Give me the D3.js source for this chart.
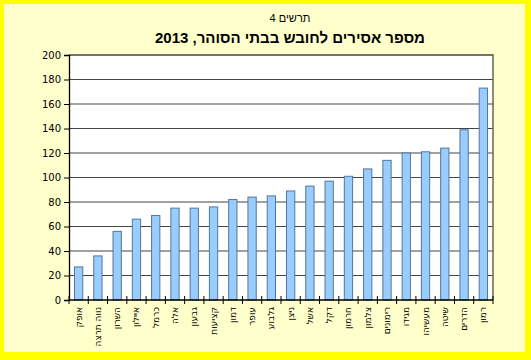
<!DOCTYPE html>
<html>
<head>
<meta charset="utf-8">
<script src="https://cdn.jsdelivr.net/npm/d3@7"></script>
<style>
  body { margin: 0; }
  svg { display: block; }
</style>
</head>
<body>
<div id="chart"></div>
<script>
var prisons = ["אופק", "נווה תרצה", "השרון", "איילון", "כרמל", "אלה", "גבעון", "קציעות", "דמון", "עופר", "גלבוע",
    "ניצן", "אשל", "דקל", "חרמון", "צלמון", "רימונים", "מגידו", "מעשיהו", "שיטה", "הדרים", "רמון"];
var prisonersPerMedic = [27, 36, 56, 66, 69, 75, 75, 76, 82, 84, 85, 89, 93, 97, 101, 107, 114, 120, 121, 124, 139, 173];
var yTicks = [0, 20, 40, 60, 80, 100, 120, 140, 160, 180, 200];

var w = 531, h = 360;
var plotLeft = 69, plotRight = 493, plotTop = 55, plotBottom = 300;

var svg = d3.select("#chart").append("svg")
    .attr("width", w)
    .attr("height", h);

// yellow frame
svg.append("rect").attr("width", w).attr("height", h).attr("fill", "#ffff00");
svg.append("rect").attr("x", 4).attr("y", 4).attr("width", w - 10).attr("height", h - 12)
    .attr("fill", "#ffffcc");

svg.append("text")
    .attr("x", 290).attr("y", 22)
    .attr("text-anchor", "middle")
    .attr("font-family", "Liberation Sans, Arial, sans-serif")
    .attr("font-size", 11)
    .text("תרשים 4");

svg.append("text")
    .attr("x", 290).attr("y", 43)
    .attr("text-anchor", "middle")
    .attr("font-family", "Liberation Sans, Arial, sans-serif")
    .attr("font-weight", "bold")
    .attr("font-size", 15)
    .text("מספר אסירים לחובש בבתי הסוהר, 2013");

var x = d3.scaleBand().domain(prisons).range([plotLeft, plotRight]).paddingInner(0).paddingOuter(0);
var y = d3.scaleLinear().domain([0, 200]).range([plotBottom, plotTop]);

svg.append("rect")
    .attr("x", plotLeft).attr("y", plotTop)
    .attr("width", plotRight - plotLeft).attr("height", plotBottom - plotTop)
    .attr("fill", "#ffffff");

// gridlines
svg.append("g").selectAll("line")
    .data(yTicks.filter(function (d) { return d > 0; }))
    .enter().append("line")
    .attr("x1", plotLeft).attr("x2", plotRight)
    .attr("y1", function (d) { return y(d); })
    .attr("y2", function (d) { return y(d); })
    .attr("stroke", "#444444")
    .attr("stroke-width", 1.2);

// plot border top/right
svg.append("path")
    .attr("d", "M" + plotLeft + "," + plotTop + "H" + plotRight + "V" + plotBottom)
    .attr("fill", "none")
    .attr("stroke", "#666655")
    .attr("stroke-width", 1.5);

var bw = x.bandwidth() * 0.43;
svg.append("g").selectAll("rect")
    .data(prisonersPerMedic)
    .enter().append("rect")
    .attr("x", function (d, i) { return x(prisons[i]) + (x.bandwidth() - bw) / 2; })
    .attr("y", function (d) { return y(d); })
    .attr("width", bw)
    .attr("height", function (d) { return y(0) - y(d); })
    .attr("fill", "#99ccff")
    .attr("stroke", "#557799")
    .attr("stroke-width", 1);

// y axis
var yAxis = svg.append("g")
    .attr("transform", "translate(" + plotLeft + ",0)")
    .call(d3.axisLeft(y).tickValues(yTicks).tickSize(5).tickPadding(3));
yAxis.select(".domain").attr("stroke", "#000").attr("stroke-width", 1.3);
yAxis.selectAll(".tick line").attr("stroke", "#000");
yAxis.selectAll("text")
    .attr("font-family", "DejaVu Sans, sans-serif")
    .attr("font-size", 10)
    .attr("fill", "#000");

// x axis
svg.append("line")
    .attr("x1", plotLeft).attr("x2", plotRight)
    .attr("y1", plotBottom).attr("y2", plotBottom)
    .attr("stroke", "#000").attr("stroke-width", 1.3);

var edges = prisons.map(function (p) { return x(p); }).concat([plotRight]);
svg.append("g").selectAll("line")
    .data(edges)
    .enter().append("line")
    .attr("x1", function (d) { return d; })
    .attr("x2", function (d) { return d; })
    .attr("y1", plotBottom - 4).attr("y2", plotBottom + 4)
    .attr("stroke", "#000");

svg.append("g").selectAll("text")
    .data(prisons)
    .enter().append("text")
    .attr("transform", function (d) {
        return "translate(" + (x(d) + x.bandwidth() / 2 + 3) + "," + (plotBottom + 7) + ") rotate(-90)";
    })
    .attr("text-anchor", "end")
    .attr("font-family", "DejaVu Sans, sans-serif")
    .attr("font-size", 9)
    .text(function (d) { return d; });
</script>
</body>
</html>
